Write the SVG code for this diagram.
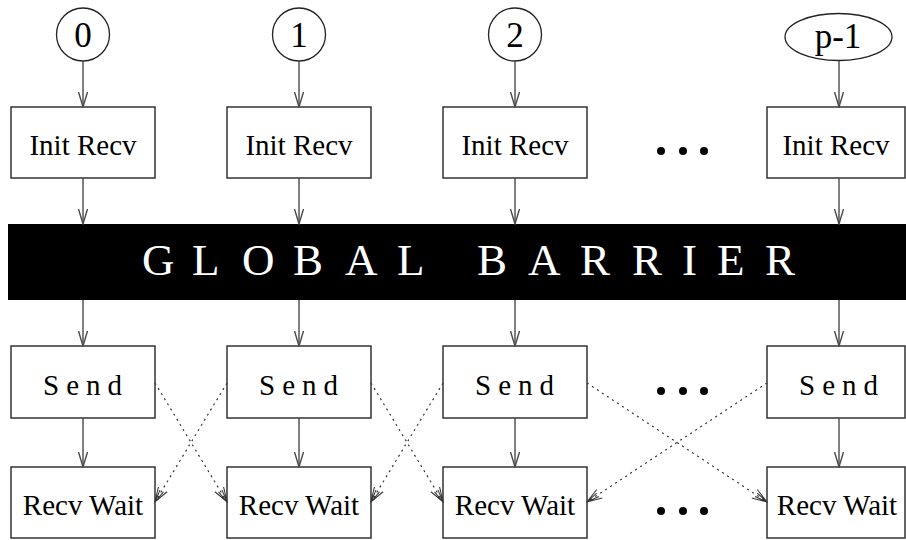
<svg xmlns="http://www.w3.org/2000/svg" width="906" height="540" viewBox="0 0 906 540">
  <style>
    .box { fill: #ffffff; stroke: #333333; stroke-width: 1.5; }
    .proc { fill: #ffffff; stroke: #222222; stroke-width: 1.3; }
    .lbl { font-family: "Liberation Serif", "Times New Roman", serif; font-size: 29px; fill: #000000; text-anchor: middle; }
    .num { font-family: "Liberation Serif", "Times New Roman", serif; font-size: 35px; fill: #000000; text-anchor: middle; }
    .spaced { letter-spacing: 7px; }
    .bar-text { font-family: "Liberation Serif", "Times New Roman", serif; font-size: 45px; fill: #ffffff; }
    .flow { stroke: #4a4a4a; stroke-width: 1.4; fill: none; marker-end: url(#vhead); }
    .cross { stroke: #333333; stroke-width: 1.2; fill: none; stroke-dasharray: 2 4; marker-end: url(#vhead-thin); }
    .dot { fill: #000000; }
  </style>
  <defs>
    <marker id="vhead" viewBox="0 0 16 12" refX="15" refY="6" markerWidth="16" markerHeight="12" markerUnits="userSpaceOnUse" orient="auto">
      <path d="M0,1.5 L15,6 L0,10.5" fill="none" stroke="#4a4a4a" stroke-width="1.4"/>
    </marker>
    <marker id="vhead-thin" viewBox="0 0 16 12" refX="15" refY="6" markerWidth="16" markerHeight="12" markerUnits="userSpaceOnUse" orient="auto">
      <path d="M0,1 L15,6 L0,11 M2,4 L15,6 M2,8 L15,6" fill="none" stroke="#333333" stroke-width="1"/>
    </marker>
  </defs>

  <rect width="906" height="540" fill="#ffffff"/>

  <!-- processor identifiers -->
  <g id="proc-0"><circle class="proc" cx="83" cy="34.5" r="26.5"/><text class="num" x="83" y="47">0</text></g>
  <g id="proc-1"><circle class="proc" cx="299" cy="34.5" r="26.5"/><text class="num" x="299" y="47">1</text></g>
  <g id="proc-2"><circle class="proc" cx="515" cy="34.5" r="26.5"/><text class="num" x="515" y="47">2</text></g>
  <g id="proc-last"><ellipse class="proc" cx="838.5" cy="37" rx="53.5" ry="23.5"/><text class="num" x="838" y="48">p-1</text></g>

  <!-- receive initialisation -->
  <g id="init-0"><rect class="box" x="11" y="107" width="144" height="71"/><text class="lbl" x="83" y="155">Init Recv</text></g>
  <g id="init-1"><rect class="box" x="227" y="107" width="144" height="71"/><text class="lbl" x="299" y="155">Init Recv</text></g>
  <g id="init-2"><rect class="box" x="443" y="107" width="144" height="71"/><text class="lbl" x="515" y="155">Init Recv</text></g>
  <g id="init-last"><rect class="box" x="767" y="107" width="138" height="71"/><text class="lbl" x="836" y="155">Init Recv</text></g>

  <!-- barrier -->
  <g id="barrier">
    <rect x="8" y="224" width="898" height="76" fill="#000000"/>
    <text class="bar-text" y="275" x="142 192 242 293 345 397 430 477 528 580 632 682 717 765">GLOBAL BARRIER</text>
  </g>

  <!-- send stage -->
  <g id="send-0"><rect class="box" x="11" y="346" width="144" height="72"/><text class="lbl spaced" x="86" y="395">Send</text></g>
  <g id="send-1"><rect class="box" x="227" y="346" width="144" height="72"/><text class="lbl spaced" x="302" y="395">Send</text></g>
  <g id="send-2"><rect class="box" x="443" y="346" width="144" height="72"/><text class="lbl spaced" x="518" y="395">Send</text></g>
  <g id="send-last"><rect class="box" x="767" y="346" width="138" height="72"/><text class="lbl spaced" x="842" y="395">Send</text></g>

  <!-- receive completion -->
  <g id="wait-0"><rect class="box" x="11" y="467" width="144" height="71"/><text class="lbl" x="83" y="515">Recv Wait</text></g>
  <g id="wait-1"><rect class="box" x="227" y="467" width="144" height="71"/><text class="lbl" x="299" y="515">Recv Wait</text></g>
  <g id="wait-2"><rect class="box" x="443" y="467" width="144" height="71"/><text class="lbl" x="515" y="515">Recv Wait</text></g>
  <g id="wait-last"><rect class="box" x="767" y="467" width="138" height="71"/><text class="lbl" x="837" y="515">Recv Wait</text></g>

  <!-- ellipsis columns -->
  <g id="ellipsis">
    <circle class="dot" cx="661" cy="151" r="4"/><circle class="dot" cx="683" cy="151" r="4"/><circle class="dot" cx="704" cy="151" r="4"/>
    <circle class="dot" cx="661" cy="391" r="4"/><circle class="dot" cx="683" cy="391" r="4"/><circle class="dot" cx="704" cy="391" r="4"/>
    <circle class="dot" cx="661" cy="511" r="4"/><circle class="dot" cx="683" cy="511" r="4"/><circle class="dot" cx="704" cy="511" r="4"/>
  </g>

  <!-- connectors -->
  <g id="connectors">
    <line class="flow" x1="83" y1="61" x2="83" y2="107"/>
    <line class="flow" x1="299" y1="61" x2="299" y2="107"/>
    <line class="flow" x1="515" y1="61" x2="515" y2="107"/>
    <line class="flow" x1="839" y1="61" x2="839" y2="107"/>

    <line class="flow" x1="83" y1="178" x2="83" y2="224"/>
    <line class="flow" x1="299" y1="178" x2="299" y2="224"/>
    <line class="flow" x1="515" y1="178" x2="515" y2="224"/>
    <line class="flow" x1="839" y1="178" x2="839" y2="224"/>

    <line class="flow" x1="83" y1="300" x2="83" y2="346"/>
    <line class="flow" x1="299" y1="300" x2="299" y2="346"/>
    <line class="flow" x1="515" y1="300" x2="515" y2="346"/>
    <line class="flow" x1="839" y1="300" x2="839" y2="346"/>

    <line class="flow" x1="83" y1="418" x2="83" y2="467"/>
    <line class="flow" x1="299" y1="418" x2="299" y2="467"/>
    <line class="flow" x1="515" y1="418" x2="515" y2="467"/>
    <line class="flow" x1="839" y1="418" x2="839" y2="467"/>

    <line class="cross" x1="155" y1="383" x2="227" y2="502"/>
    <line class="cross" x1="227" y1="383" x2="155" y2="502"/>
    <line class="cross" x1="371" y1="383" x2="443" y2="502"/>
    <line class="cross" x1="443" y1="383" x2="371" y2="502"/>
    <line class="cross" x1="587" y1="383" x2="767" y2="502"/>
    <line class="cross" x1="767" y1="383" x2="587" y2="502"/>
  </g>
</svg>
